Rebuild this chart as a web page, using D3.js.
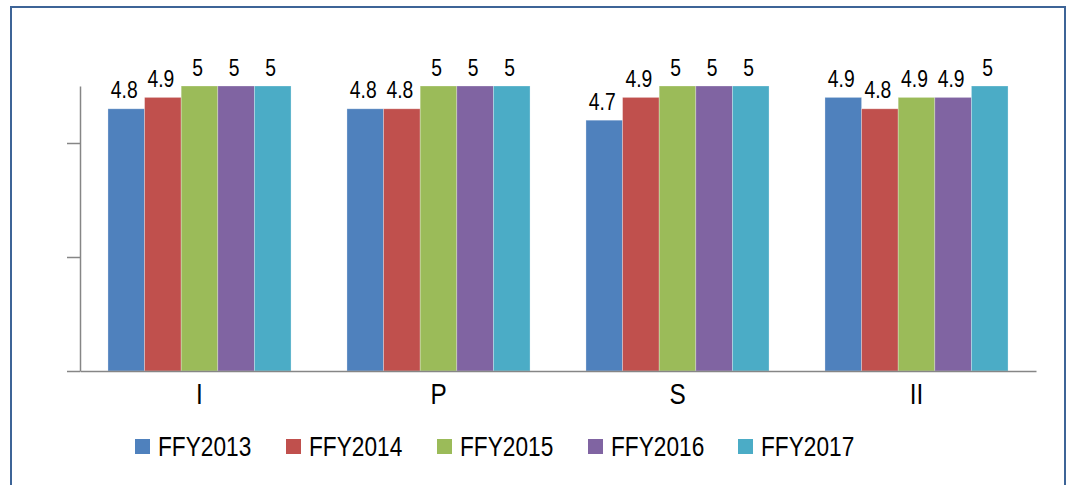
<!DOCTYPE html>
<html>
<head>
<meta charset="utf-8">
<script src="https://cdn.jsdelivr.net/npm/d3@7"></script>
<style>
  html, body { margin: 0; padding: 0; background: #fff; }
  svg text { font-family: "Liberation Sans", Arial, sans-serif; fill: #000; }
</style>
</head>
<body>
<svg id="chart" width="1071" height="485"></svg>
<script>
// Categories and series
const categories = ["I", "P", "S", "II"];
const seriesNames = ["FFY2013", "FFY2014", "FFY2015", "FFY2016", "FFY2017"];
const seriesColors = ["#4f81bd", "#c0504d", "#9bbb59", "#8064a2", "#4bacc6"];
// values[series][category]
const FFY2013 = [4.8, 4.8, 4.7, 4.9];
const FFY2014 = [4.9, 4.8, 4.9, 4.8];
const FFY2015 = [5, 5, 5, 4.9];
const FFY2016 = [5, 5, 5, 4.9];
const FFY2017 = [5, 5, 5, 5];
const seriesValues = [FFY2013, FFY2014, FFY2015, FFY2016, FFY2017];
const yTicks = [2.5, 3.5, 4.5];

// narrow lettering: regular sans squeezed horizontally
const NARROW = 0.84;

const svg = d3.select("#chart");

// outer frame
svg.append("rect")
  .attr("x", 11).attr("y", 7)
  .attr("width", 1054).attr("height", 490)
  .attr("fill", "none")
  .attr("stroke", "#3d6497")
  .attr("stroke-width", 2);

const plot = { left: 80, right: 1036, top: 86, bottom: 371 };

const x0 = d3.scaleBand()
  .domain(categories)
  .range([plot.left, plot.right])
  .paddingInner(0.234)
  .paddingOuter(0.117);

const x1 = d3.scaleBand()
  .domain(seriesNames)
  .range([0, x0.bandwidth()]);

const y = d3.scaleLinear()
  .domain([2.5, 5])
  .range([plot.bottom, plot.top]);

// bars
const rows = categories.map((c, ci) => ({
  cat: c,
  vals: seriesNames.map((s, si) => ({ s, si, v: seriesValues[si][ci] }))
}));

const groups = svg.append("g").selectAll("g")
  .data(rows)
  .join("g")
  .attr("transform", d => `translate(${x0(d.cat)},0)`);

groups.selectAll("rect")
  .data(d => d.vals)
  .join("rect")
  .attr("x", d => x1(d.s))
  .attr("y", d => y(d.v))
  .attr("width", x1.bandwidth())
  .attr("height", d => y(2.5) - y(d.v))
  .attr("fill", d => seriesColors[d.si])
  .attr("stroke", "rgba(255,255,255,0.35)")
  .attr("stroke-width", 0.8);

// value labels
groups.selectAll("text")
  .data(d => d.vals)
  .join("text")
  .attr("transform", d => `translate(${x1(d.s) + x1.bandwidth() / 2 - 2},${y(d.v) - 10.5}) scale(${NARROW},1)`)
  .attr("text-anchor", "middle")
  .attr("font-size", 23)
  .text(d => d3.format("~g")(d.v));

// value axis (ticks only, no labels)
const yAxis = svg.append("g")
  .attr("transform", `translate(${plot.left},0)`)
  .call(d3.axisLeft(y).tickValues(yTicks).tickSize(13).tickSizeOuter(0).tickFormat(""));
yAxis.selectAll("path, line").attr("stroke", "#868686").attr("stroke-width", 1.5);

// category axis
const xAxis = svg.append("g")
  .attr("transform", `translate(0,${plot.bottom})`)
  .call(d3.axisBottom(x0).tickSize(0).tickSizeOuter(0).tickFormat(""));
xAxis.select(".domain").attr("stroke", "#868686").attr("stroke-width", 1.5);
xAxis.selectAll(".tick")
  .append("text")
  .attr("transform", `translate(0,33) scale(${NARROW},1)`)
  .attr("text-anchor", "middle")
  .attr("font-size", 29)
  .text(d => d);

// legend
const legendX = [135, 286, 437, 588, 738];
const legend = svg.append("g").selectAll("g")
  .data(seriesNames)
  .join("g")
  .attr("transform", (d, i) => `translate(${legendX[i]},439)`);
legend.append("rect")
  .attr("width", 15).attr("height", 15)
  .attr("fill", (d, i) => seriesColors[i]);
legend.append("text")
  .attr("transform", `translate(23,16.5) scale(${NARROW},1)`)
  .attr("font-size", 27)
  .text(d => d);
</script>
</body>
</html>
